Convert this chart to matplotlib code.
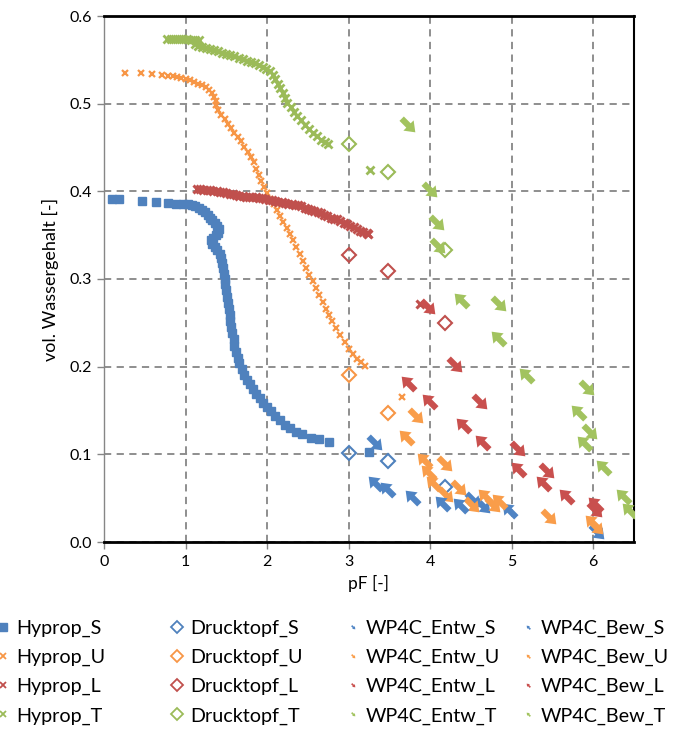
import numpy as np
import matplotlib
matplotlib.use("Agg")
import matplotlib.pyplot as plt
from matplotlib.path import Path
from matplotlib.lines import Line2D

plt.rcParams['font.family'] = ['Lato', 'DejaVu Sans']

# ---------------- data: pF [-] vs. volumetric water content [-] ----------------
hyprop_S_pf = [0.10, 0.19, 0.46, 0.64, 0.78, 0.88, 0.97, 1.03, 1.08, 1.12, 1.16, 1.20, 1.24, 1.27,
               1.30, 1.33, 1.36, 1.39, 1.41, 1.40, 1.37, 1.34, 1.31, 1.33, 1.36, 1.39, 1.42, 1.44,
               1.45, 1.46, 1.47, 1.48, 1.49, 1.50, 1.51, 1.52, 1.53, 1.54, 1.55, 1.56, 1.57, 1.59,
               1.60, 1.62, 1.64, 1.66, 1.69, 1.72, 1.75, 1.79, 1.83, 1.87, 1.91, 1.95, 2.00, 2.05,
               2.10, 2.16, 2.22, 2.28, 2.35, 2.43, 2.54, 2.64, 2.76, 3.25]
hyprop_S_wc = [0.391, 0.391, 0.389, 0.388, 0.387, 0.386, 0.386, 0.385, 0.384, 0.383, 0.381, 0.379,
               0.376, 0.373, 0.370, 0.367, 0.364, 0.361, 0.357, 0.353, 0.350, 0.347, 0.344, 0.340,
               0.337, 0.333, 0.329, 0.324, 0.318, 0.312, 0.306, 0.300, 0.294, 0.287, 0.280, 0.273,
               0.266, 0.259, 0.252, 0.245, 0.238, 0.231, 0.224, 0.217, 0.210, 0.204, 0.197, 0.191,
               0.185, 0.180, 0.174, 0.169, 0.164, 0.159, 0.154, 0.149, 0.144, 0.139, 0.134, 0.130,
               0.126, 0.123, 0.119, 0.117, 0.114, 0.103]

hyprop_U_pf = [0.26, 0.45, 0.59, 0.71, 0.79, 0.85, 0.90, 0.95, 1.00, 1.05, 1.10, 1.15, 1.20, 1.25,
               1.29, 1.32, 1.35, 1.37, 1.37, 1.40, 1.44, 1.48, 1.52, 1.56, 1.60, 1.64, 1.68, 1.72,
               1.76, 1.80, 1.84, 1.87, 1.90, 1.93, 1.96, 2.00, 2.04, 2.08, 2.12, 2.16, 2.20, 2.24,
               2.28, 2.32, 2.36, 2.40, 2.44, 2.48, 2.52, 2.56, 2.60, 2.64, 2.68, 2.72, 2.76, 2.80,
               2.85, 2.90, 2.95, 3.00, 3.05, 3.10, 3.15, 3.20, 3.65]
hyprop_U_wc = [0.535, 0.535, 0.534, 0.533, 0.532, 0.531, 0.530, 0.529, 0.528, 0.527, 0.525, 0.523,
               0.521, 0.519, 0.516, 0.512, 0.508, 0.503, 0.498, 0.493, 0.487, 0.482, 0.477, 0.472,
               0.467, 0.462, 0.457, 0.451, 0.445, 0.439, 0.433, 0.426, 0.419, 0.412, 0.405, 0.398,
               0.391, 0.385, 0.379, 0.372, 0.365, 0.358, 0.351, 0.344, 0.337, 0.329, 0.321, 0.313,
               0.305, 0.298, 0.290, 0.282, 0.274, 0.266, 0.259, 0.252, 0.244, 0.236, 0.228, 0.220,
               0.214, 0.209, 0.205, 0.201, 0.165]

hyprop_L_pf = [1.14, 1.18, 1.22, 1.26, 1.30, 1.34, 1.38, 1.42, 1.46, 1.50, 1.54, 1.58, 1.62, 1.66,
               1.70, 1.74, 1.78, 1.82, 1.86, 1.90, 1.94, 1.98, 2.02, 2.06, 2.10, 2.14, 2.18, 2.22,
               2.26, 2.30, 2.34, 2.38, 2.42, 2.46, 2.50, 2.54, 2.58, 2.62, 2.66, 2.70, 2.74, 2.78,
               2.82, 2.86, 2.90, 2.94, 2.98, 3.02, 3.06, 3.10, 3.14, 3.18, 3.22, 3.24, 3.87]
hyprop_L_wc = [0.403, 0.403, 0.402, 0.401, 0.401, 0.400, 0.400, 0.399, 0.399, 0.398, 0.397, 0.397,
               0.396, 0.395, 0.395, 0.394, 0.394, 0.393, 0.393, 0.392, 0.392, 0.391, 0.390, 0.390,
               0.389, 0.388, 0.388, 0.387, 0.386, 0.385, 0.384, 0.384, 0.383, 0.381, 0.380, 0.379,
               0.377, 0.376, 0.375, 0.373, 0.372, 0.370, 0.369, 0.368, 0.366, 0.364, 0.363, 0.361,
               0.359, 0.357, 0.355, 0.354, 0.352, 0.351, 0.272]

hyprop_T_pf = [0.77, 0.82, 0.87, 0.92, 0.97, 1.02, 1.07, 1.12, 1.17, 1.12, 1.15, 1.20, 1.25, 1.30,
               1.35, 1.40, 1.45, 1.50, 1.55, 1.60, 1.65, 1.70, 1.75, 1.80, 1.85, 1.90, 1.95, 1.99,
               2.03, 2.07, 2.10, 2.13, 2.16, 2.19, 2.22, 2.25, 2.29, 2.33, 2.37, 2.41, 2.46, 2.51,
               2.56, 2.61, 2.66, 2.71, 2.75, 3.26]
hyprop_T_wc = [0.574, 0.574, 0.574, 0.574, 0.574, 0.574, 0.573, 0.573, 0.573, 0.568, 0.566, 0.565,
               0.564, 0.562, 0.561, 0.560, 0.558, 0.557, 0.555, 0.554, 0.552, 0.551, 0.549, 0.547,
               0.546, 0.544, 0.542, 0.540, 0.537, 0.533, 0.528, 0.523, 0.518, 0.512, 0.506, 0.501,
               0.496, 0.491, 0.486, 0.481, 0.476, 0.471, 0.467, 0.463, 0.459, 0.456, 0.454, 0.424]

drucktopf_pf = [3.01, 3.48, 4.18]
drucktopf_S_wc = [0.102, 0.092, 0.063]
drucktopf_U_pf = [3.01, 3.48]
drucktopf_U_wc = [0.190, 0.147]
drucktopf_L_wc = [0.327, 0.309, 0.250]
drucktopf_T_wc = [0.454, 0.422, 0.333]

wp4c_entw_S_pf = [3.32, 4.53, 4.65, 6.05]
wp4c_entw_S_wc = [0.113, 0.048, 0.041, 0.011]
wp4c_bew_S_pf = [3.32, 3.47, 3.78, 4.14, 4.37, 4.97]
wp4c_bew_S_wc = [0.067, 0.061, 0.051, 0.044, 0.042, 0.036]

wp4c_entw_U_pf = [3.83, 4.18, 4.35, 4.19, 4.51, 4.77, 5.46, 6.03]
wp4c_entw_U_wc = [0.144, 0.089, 0.062, 0.054, 0.042, 0.042, 0.029, 0.017]
wp4c_bew_U_pf = [3.70, 3.92, 3.97, 4.04, 4.67, 4.85, 5.99]
wp4c_bew_U_wc = [0.120, 0.094, 0.080, 0.067, 0.052, 0.047, 0.023]

wp4c_entw_L_pf = [3.97, 4.31, 4.61, 5.08, 5.43, 6.02]
wp4c_entw_L_wc = [0.268, 0.202, 0.160, 0.106, 0.081, 0.036]
wp4c_bew_L_pf = [3.73, 3.99, 4.40, 4.63, 5.08, 5.38, 5.66, 6.02]
wp4c_bew_L_wc = [0.181, 0.161, 0.133, 0.114, 0.083, 0.067, 0.052, 0.043]

wp4c_entw_T_pf = [3.73, 4.00, 4.08, 4.10, 4.85, 5.92, 5.96]
wp4c_entw_T_wc = [0.476, 0.401, 0.364, 0.338, 0.271, 0.176, 0.126]
wp4c_bew_T_pf = [4.38, 4.83, 5.17, 5.81, 5.89, 6.12, 6.36, 6.44]
wp4c_bew_T_wc = [0.276, 0.233, 0.190, 0.148, 0.113, 0.086, 0.052, 0.036]

x_ticks = [0, 1, 2, 3, 4, 5, 6]
y_ticks = [0.0, 0.1, 0.2, 0.3, 0.4, 0.5, 0.6]

# ---------------- styles ----------------
BLUE, ORANGE, RED, GREEN = '#4f81bd', '#f79646', '#c0504d', '#9bbb59'
A_BLUE, A_ORANGE, A_RED, A_GREEN = '#4f84c4', '#f99d4a', '#c9504e', '#a2c35f'


def arrow_marker(angle_deg):
    """Block arrow pointing right, rotated by angle_deg."""
    v = np.array([(-1.0, -0.32), (0.0, -0.32), (0.0, -0.75), (1.0, 0.0),
                  (0.0, 0.75), (0.0, 0.32), (-1.0, 0.32), (-1.0, -0.32)])
    a = np.deg2rad(angle_deg)
    rot = np.array([[np.cos(a), -np.sin(a)], [np.sin(a), np.cos(a)]])
    v = v @ rot.T
    codes = [Path.MOVETO] + [Path.LINETO] * 6 + [Path.CLOSEPOLY]
    return Path(v, codes)


ARROW_DOWN = arrow_marker(-45)   # drying
ARROW_UP = arrow_marker(135)     # wetting

fig = plt.figure(figsize=(6.82, 7.33), dpi=100)
ax = fig.add_axes([104 / 682, 1 - 542 / 733, 530 / 682, 526 / 733])

# Hyprop
ax.plot(hyprop_S_pf, hyprop_S_wc, ls='none', marker='s', ms=5.3, color=BLUE, mec=BLUE, zorder=3)
ax.plot(hyprop_U_pf, hyprop_U_wc, ls='none', marker='x', ms=5.0, mew=1.6, color=ORANGE, zorder=3)
ax.plot(hyprop_L_pf, hyprop_L_wc, ls='none', marker='x', ms=5.5, mew=2.2, color=RED, zorder=3)
ax.plot(hyprop_T_pf, hyprop_T_wc, ls='none', marker='x', ms=5.5, mew=2.0, color=GREEN, zorder=3)

# Drucktopf
dk = dict(ls='none', marker='D', ms=6.8, mew=1.5, mfc='none', zorder=4)
ax.plot(drucktopf_pf, drucktopf_S_wc, mec=BLUE, **dk)
ax.plot(drucktopf_U_pf, drucktopf_U_wc, mec=ORANGE, **dk)
ax.plot(drucktopf_pf, drucktopf_L_wc, mec=RED, **dk)
ax.plot(drucktopf_pf, drucktopf_T_wc, mec=GREEN, **dk)

# WP4C
ak = dict(ls='none', ms=13, mew=0, zorder=5)
for pf, wc, col in [(wp4c_entw_S_pf, wp4c_entw_S_wc, A_BLUE), (wp4c_entw_U_pf, wp4c_entw_U_wc, A_ORANGE),
                    (wp4c_entw_L_pf, wp4c_entw_L_wc, A_RED), (wp4c_entw_T_pf, wp4c_entw_T_wc, A_GREEN)]:
    ax.plot(pf, wc, marker=ARROW_DOWN, color=col, **ak)
for pf, wc, col in [(wp4c_bew_S_pf, wp4c_bew_S_wc, A_BLUE), (wp4c_bew_U_pf, wp4c_bew_U_wc, A_ORANGE),
                    (wp4c_bew_L_pf, wp4c_bew_L_wc, A_RED), (wp4c_bew_T_pf, wp4c_bew_T_wc, A_GREEN)]:
    ax.plot(pf, wc, marker=ARROW_UP, color=col, **ak)

# axes
ax.set_xlim(0, 6.5)
ax.set_ylim(0, 0.6)
ax.set_xticks(x_ticks)
ax.set_yticks(y_ticks)
ax.set_xticklabels([str(t) for t in x_ticks])
ax.set_yticklabels([f'{t:.1f}' for t in y_ticks])
ax.tick_params(axis='both', direction='out', length=5, width=1, color='#868686',
               labelsize=11.5, pad=4, labelcolor='black')
ax.grid(True, color='#868686', ls=(0, (4, 3)), lw=1.3)
ax.set_axisbelow(True)
ax.spines['left'].set_color('#868686')
ax.spines['left'].set_linewidth(1.0)
for s in ['top', 'bottom']:
    ax.spines[s].set_color('black')
    ax.spines[s].set_linewidth(2.0)
ax.spines['right'].set_color('black')
ax.spines['right'].set_linewidth(1.5)

ax.set_xlabel('pF [-]', fontsize=12.5, labelpad=5)
ax.set_ylabel('vol. Wassergehalt [-]', fontsize=13, labelpad=7)

# legend, one block per column
cols = [
    [('Hyprop_S', dict(marker='s', ms=5.5, color=BLUE)),
     ('Hyprop_U', dict(marker='x', ms=4.5, mew=1.3, color=ORANGE)),
     ('Hyprop_L', dict(marker='x', ms=4.5, mew=1.3, color=RED)),
     ('Hyprop_T', dict(marker='x', ms=4.5, mew=1.3, color=GREEN))],
    [('Drucktopf_S', dict(marker='D', ms=6.5, mew=1.3, mfc='none', mec=BLUE)),
     ('Drucktopf_U', dict(marker='D', ms=6.5, mew=1.3, mfc='none', mec=ORANGE)),
     ('Drucktopf_L', dict(marker='D', ms=6.5, mew=1.3, mfc='none', mec=RED)),
     ('Drucktopf_T', dict(marker='D', ms=6.5, mew=1.3, mfc='none', mec=GREEN))],
    [('WP4C_Entw_S', dict(marker=ARROW_DOWN, ms=3.5, mew=0, color=A_BLUE)),
     ('WP4C_Entw_U', dict(marker=ARROW_DOWN, ms=3.5, mew=0, color=A_ORANGE)),
     ('WP4C_Entw_L', dict(marker=ARROW_DOWN, ms=3.5, mew=0, color=A_RED)),
     ('WP4C_Entw_T', dict(marker=ARROW_DOWN, ms=3.5, mew=0, color=A_GREEN))],
    [('WP4C_Bew_S', dict(marker=ARROW_UP, ms=3.5, mew=0, color=A_BLUE)),
     ('WP4C_Bew_U', dict(marker=ARROW_UP, ms=3.5, mew=0, color=A_ORANGE)),
     ('WP4C_Bew_L', dict(marker=ARROW_UP, ms=3.5, mew=0, color=A_RED)),
     ('WP4C_Bew_T', dict(marker=ARROW_UP, ms=3.5, mew=0, color=A_GREEN))],
]
col_x = [-2.5, 171.5, 347.5, 522.5]
for cx, entries in zip(col_x, cols):
    handles = [Line2D([], [], ls='none', **kw) for _, kw in entries]
    labels = [lab for lab, _ in entries]
    fig.legend(handles, labels, loc='upper left', bbox_to_anchor=(cx / 682, 1 - 620 / 733),
               frameon=False, fontsize=14.2, borderpad=0, borderaxespad=0,
               handlelength=0.6, handletextpad=0.33, labelspacing=0.6)

fig.savefig('out.png', dpi=100)
